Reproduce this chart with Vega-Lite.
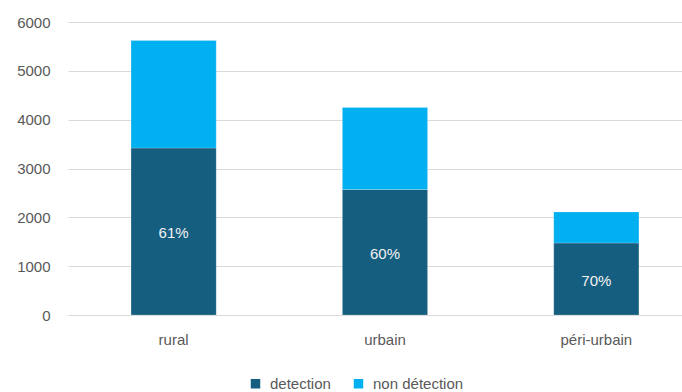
{
  "$schema": "https://vega.github.io/schema/vega-lite/v6.json",
  "autosize": "none",
  "width": 614,
  "height": 293,
  "padding": {"left": 68, "top": 22, "right": 0, "bottom": 77},
  "background": "white",
  "config": {
    "view": {"stroke": null},
    "font": "Liberation Sans",
    "axis": {"labelFont": "Liberation Sans", "labelFontSize": 15, "labelColor": "#595959"},
    "legend": {"labelFont": "Liberation Sans", "labelFontSize": 15, "labelColor": "#595959"}
  },
  "data": {
    "values": [
      {"zone": "rural", "statut": "detection", "n": 3420, "pct": "61%"},
      {"zone": "rural", "statut": "non détection", "n": 2200, "pct": ""},
      {"zone": "urbain", "statut": "detection", "n": 2570, "pct": "60%"},
      {"zone": "urbain", "statut": "non détection", "n": 1680, "pct": ""},
      {"zone": "péri-urbain", "statut": "detection", "n": 1475, "pct": "70%"},
      {"zone": "péri-urbain", "statut": "non détection", "n": 635, "pct": ""}
    ]
  },
  "encoding": {
    "x": {
      "field": "zone", "type": "nominal", "sort": null, "title": null,
      "scale": {"paddingInner": 0.597, "paddingOuter": 0.251, "align": 0.594},
      "axis": {"labelAngle": 0, "ticks": false, "domain": false, "labelPadding": 17, "grid": false}
    }
  },
  "layer": [
    {
      "mark": {"type": "bar", "stroke": "#ffffff", "strokeWidth": 0.5, "strokeOpacity": 0.4},
      "encoding": {
        "y": {
          "field": "n", "type": "quantitative", "stack": "zero", "title": null,
          "scale": {"domain": [0, 6000], "nice": false},
          "axis": {"values": [0, 1000, 2000, 3000, 4000, 5000, 6000], "format": "d", "ticks": false, "domain": false, "gridColor": "#d9d9d9", "gridWidth": 1, "labelPadding": 18}
        },
        "color": {
          "field": "statut", "type": "nominal", "title": null,
          "scale": {"domain": ["detection", "non détection"], "range": ["#165E80", "#00B0F0"]},
          "legend": {"orient": "none", "direction": "horizontal", "legendX": 180, "legendY": 354, "symbolType": "square", "symbolSize": 90, "symbolStrokeWidth": 0, "columnPadding": 20, "labelOffset": 7}
        },
        "order": {"field": "statut", "sort": "ascending"}
      }
    },
    {
      "transform": [{"filter": "datum.statut === 'detection'"}],
      "mark": {"type": "text", "color": "#f2f2f2", "fontSize": 15, "baseline": "middle", "dy": 2},
      "encoding": {
        "y": {"field": "n", "type": "quantitative", "scale": {"domain": [0, 12000], "nice": false}, "axis": null},
        "text": {"field": "pct"}
      }
    }
  ],
  "resolve": {"scale": {"y": "independent"}}
}
